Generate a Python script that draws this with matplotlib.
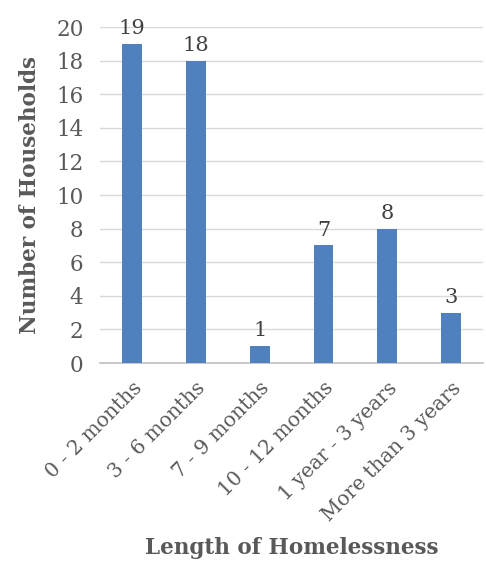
import matplotlib.pyplot as plt

categories = ['0 - 2 months', '3 - 6 months', '7 - 9 months',
              '10 - 12 months', '1 year - 3 years', 'More than 3 years']
households = [19, 18, 1, 7, 8, 3]

plt.rcParams['font.family'] = ['DejaVu Serif']

fig = plt.figure(figsize=(4.86, 5.69), dpi=100)
ax = fig.add_axes([0.206, 0.362, 0.788, 0.5905])

x = list(range(len(categories)))
bars = ax.bar(x, households, width=0.31, color='#4F81BD', zorder=3)

for xi, v in zip(x, households):
    ax.text(xi, v + 0.35, str(v), ha='center', va='bottom',
            fontsize=15, color='#404040', clip_on=False)

ax.set_xlim(-0.5, len(categories) - 0.5)
ax.set_ylim(0, 20)
ax.set_yticks(range(0, 21, 2))
ax.yaxis.grid(True, color='#D9D9D9', linewidth=1, zorder=0)
ax.set_xticks(x)
ax.set_xticklabels(categories, rotation=45, ha='right', rotation_mode='anchor',
                   fontsize=14.5, color='#595959')
ax.tick_params(axis='y', labelsize=15.5, labelcolor='#595959', length=0, pad=12)
ax.tick_params(axis='x', length=0, pad=11)

for side in ['top', 'right', 'left']:
    ax.spines[side].set_visible(False)
ax.spines['bottom'].set_color('#BFBFBF')
ax.spines['bottom'].set_linewidth(1.2)

ax.set_ylabel('Number of Households', fontsize=15.5, fontweight='bold',
              color='#595959')
ax.yaxis.set_label_coords(-0.155, 0.5)
ax.set_xlabel('Length of Homelessness', fontsize=15.5, fontweight='bold',
              color='#595959', va='center')
ax.xaxis.set_label_coords(0.5, -0.55)

fig.savefig('out.png', dpi=100)
